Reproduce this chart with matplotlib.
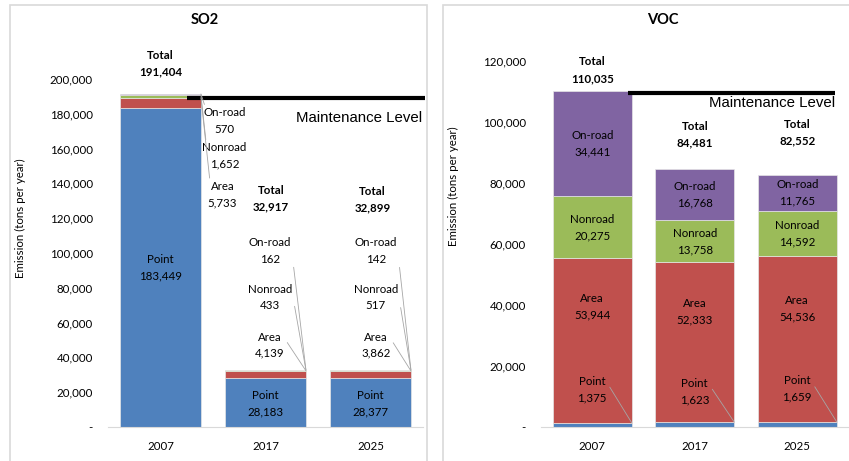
import numpy as np
import matplotlib.pyplot as plt
from matplotlib.patches import Rectangle
from matplotlib.ticker import FuncFormatter, MultipleLocator

plt.rcParams['font.family'] = ['Lato', 'DejaVu Sans']

years = ['2007', '2017', '2025']
sectors = ['Point', 'Area', 'Nonroad', 'On-road']
colors = ['#4F81BD', '#C0504D', '#9BBB59', '#8064A2']

so2_point = [183449, 28183, 28377]
so2_area = [5733, 4139, 3862]
so2_nonroad = [1652, 433, 517]
so2_onroad = [570, 162, 142]
so2_total = ['191,404', '32,917', '32,899']
so2_maint = 189300

voc_point = [1375, 1623, 1659]
voc_area = [53944, 52333, 54536]
voc_nonroad = [20275, 13758, 14592]
voc_onroad = [34441, 16768, 11765]
voc_total = ['110,035', '84,481', '82,552']
voc_maint = 109600

W, H = 849, 461
fig = plt.figure(figsize=(W / 100, H / 100), dpi=100)

# panel frames
for x0, x1 in [(10, 427), (443, 860)]:
    fig.patches.append(Rectangle((x0 / W, -0.05), (x1 - x0) / W, 1.05 - 5 / H,
                                 transform=fig.transFigure, fill=False,
                                 edgecolor='#D9D9D9', lw=1.2))

FS = 8.3
lead = dict(arrowstyle='-', color='#A6A6A6', lw=0.6, shrinkA=0, shrinkB=0)


def fmt(v, pos=None):
    return '-' if v == 0 else f'{int(v):,}'


def stack(ax, series):
    x = np.arange(len(years))
    bottom = np.zeros(len(years))
    tops = []
    for vals, c in zip(series, colors):
        vals = np.array(vals, dtype=float)
        ax.bar(x, vals, 0.77, bottom=bottom, color=c, edgecolor='#E6E6E6', lw=0.5)
        bottom = bottom + vals
        tops.append(bottom.copy())
    return x, tops


def style(ax, ymax, step):
    ax.set_xlim(-0.5, 2.5)
    ax.set_ylim(0, ymax)
    ax.yaxis.set_major_locator(MultipleLocator(step))
    ax.yaxis.set_major_formatter(FuncFormatter(fmt))
    for s in ['left', 'right', 'top']:
        ax.spines[s].set_visible(False)
    ax.spines['bottom'].set_color('#D9D9D9')
    ax.tick_params(length=0, labelsize=FS)
    ax.tick_params(axis='y', pad=11)
    ax.tick_params(axis='x', pad=10)
    ax.set_xticks(range(len(years)))
    ax.set_xticklabels(years)


def label(ax, x, y, name, v, bold=False):
    ax.text(x, y, f'{name}\n{v:,}' if not isinstance(v, str) else f'{name}\n{v}',
            ha='center', va='center', fontsize=FS, linespacing=1.6,
            fontweight='bold' if bold else 'normal', clip_on=False)


# ---------------- SO2 ----------------
ax1 = fig.add_axes([108 / W, 1 - 427 / H, 315 / W, 348 / H])
x, tops = stack(ax1, [so2_point, so2_area, so2_nonroad, so2_onroad])
style(ax1, 200000, 20000)
fig.text(205 / W, 1 - 20 / H, 'SO2', fontsize=10.5, fontweight='bold',
         ha='center', va='center')
fig.text(20 / W, 1 - 218 / H, 'Emission (tons per year)', rotation=90,
         ha='center', va='center', fontsize=FS)

for i in range(3):
    label(ax1, x[i], so2_point[i] / 2 if i == 0 else so2_point[i] / 2 - 900, 'Point', so2_point[i])
label(ax1, 0, 208900, 'Total', so2_total[0], bold=True)
label(ax1, 1.05, 131300, 'Total', so2_total[1], bold=True)
label(ax1, 2.02, 130700, 'Total', so2_total[2], bold=True)

# 2007 small segments, labels to the right of the bar
for name, vals, top, ly in [('On-road', so2_onroad, tops[3], 175900),
                            ('Nonroad', so2_nonroad, tops[2], 155700),
                            ('Area', so2_area, tops[1], 133600)]:
    lx = 0.61 if name != 'Area' else 0.59
    ax1.annotate(f'{name}\n{vals[0]:,}', xy=(0.385, top[0]), xytext=(lx, ly),
                 ha='center', va='center', fontsize=FS, linespacing=1.6,
                 arrowprops=dict(lead, relpos=(0.1, 0.75)))
    for i, dx in [(1, 0.04), (2, 0.05)]:
        ly2 = {'On-road': 101200, 'Nonroad': 74400, 'Area': 47000}[name]
        ax1.annotate(f'{name}\n{vals[i]:,}', xy=(i + 0.385, top[i]),
                     xytext=(i + dx, ly2), ha='center', va='center',
                     fontsize=FS, linespacing=1.6,
                     arrowprops=dict(lead, relpos=(1.0, 0.75)))

ax1.plot([0.25, 2.52], [so2_maint, so2_maint], color='black', lw=3,
         solid_capstyle='butt', clip_on=False)
ax1.text(2.49, so2_maint - 11700, 'Maintenance Level', ha='right', va='center',
         fontsize=10.8, family='Liberation Sans')

# ---------------- VOC ----------------
ax2 = fig.add_axes([541 / W, 1 - 427 / H, 307.5 / W, 366 / H])
x, tops = stack(ax2, [voc_point, voc_area, voc_nonroad, voc_onroad])
style(ax2, 120000, 20000)
fig.text(663 / W, 1 - 20 / H, 'VOC', fontsize=10.5, fontweight='bold',
         ha='center', va='center')
fig.text(453 / W, 1 - 186 / H, 'Emission (tons per year)', rotation=90,
         ha='center', va='center', fontsize=FS)

area_y = [39300, 37700, 38700]
point_y = [12300, 11500, 12400]
for i in range(3):
    b_non = voc_point[i] + voc_area[i]
    b_on = b_non + voc_nonroad[i]
    label(ax2, x[i], b_on + voc_onroad[i] / 2, 'On-road', voc_onroad[i])
    label(ax2, x[i], b_non + voc_nonroad[i] / 2, 'Nonroad', voc_nonroad[i])
    label(ax2, x[i], area_y[i], 'Area', voc_area[i])
    ax2.annotate(f'Point\n{voc_point[i]:,}', xy=(i + 0.385, voc_point[i]),
                 xytext=(i, point_y[i]), ha='center', va='center',
                 fontsize=FS, linespacing=1.6,
                 arrowprops=dict(lead, relpos=(1.0, 0.75)))

label(ax2, 0, 117000, 'Total', voc_total[0], bold=True)
label(ax2, 1, 96000, 'Total', voc_total[1], bold=True)
label(ax2, 2, 96400, 'Total', voc_total[2], bold=True)

ax2.plot([0.35, 2.37], [voc_maint, voc_maint], color='black', lw=3,
         solid_capstyle='butt', clip_on=False)
ax2.text(2.37, voc_maint - 3400, 'Maintenance Level', ha='right', va='center',
         fontsize=10.8, family='Liberation Sans')

fig.savefig('out.png', dpi=100, facecolor='white')
